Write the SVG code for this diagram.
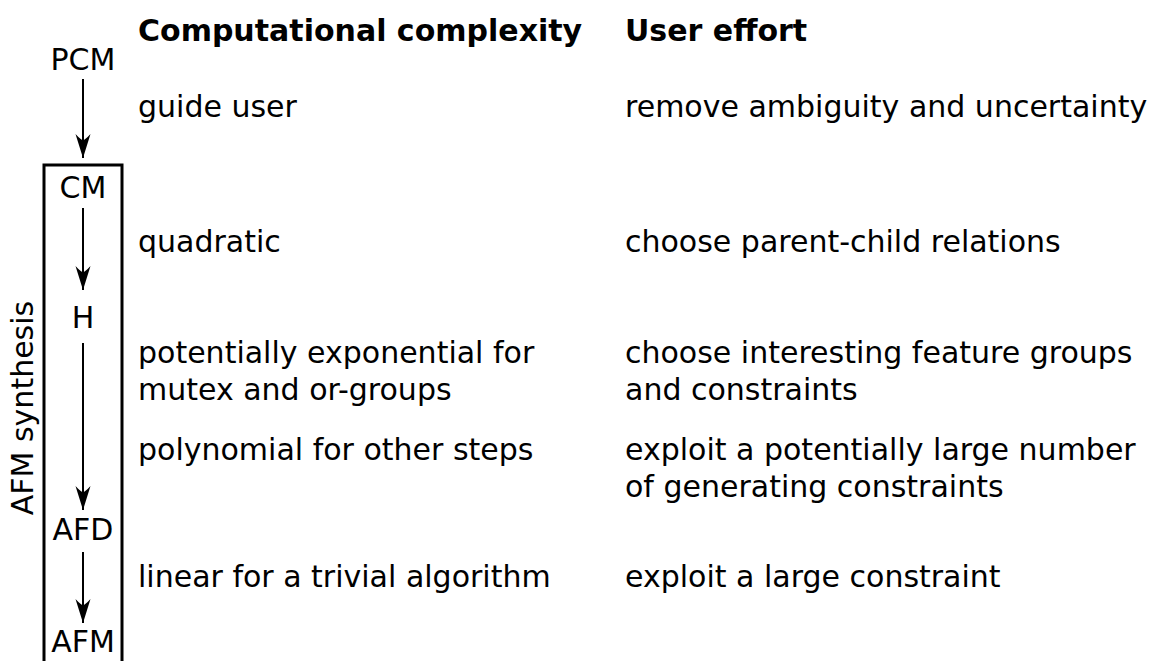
<svg xmlns="http://www.w3.org/2000/svg" width="1150" height="661" viewBox="0 0 1150 661">
<defs>
<marker id="ah" markerUnits="userSpaceOnUse" markerWidth="30" markerHeight="20" viewBox="-26 -10 30 20" refX="0" refY="0" orient="auto">
<path d="M0,0 L-24,-7.5 Q-18,-2 -18,0 Q-18,2 -24,7.5 Z" fill="#000"/>
</marker>
</defs>
<style>
text{font-family:"DejaVu Sans","Liberation Sans",sans-serif;font-size:30px;fill:#000}
.h{font-weight:bold}
.n{text-anchor:middle}
.c{stroke:#000;stroke-width:2;fill:none;marker-end:url(#ah)}
</style>
<rect id="box" x="44" y="165" width="78" height="520" fill="none" stroke="#000" stroke-width="3"/>
<text transform="translate(33,408) rotate(-90)" class="n">AFM synthesis</text>
<g id="connectors">
<path class="c" d="M83,79 V158"/>
<path class="c" d="M83,208 V290"/>
<path class="c" d="M83,343 V510"/>
<path class="c" d="M83,552 V623"/>
</g>
<g id="PCM"><text class="n" x="83" y="70">PCM</text></g>
<g id="CM"><text class="n" x="83" y="198">CM</text></g>
<g id="H"><text class="n" x="83" y="328">H</text></g>
<g id="AFD"><text class="n" x="83" y="540">AFD</text></g>
<g id="AFM"><text class="n" x="83" y="652">AFM</text></g>
<g id="complexity">
<text class="h" x="138" y="41">Computational complexity</text>
<text x="138" y="117">guide user</text>
<text x="138" y="252">quadratic</text>
<text x="138" y="363">potentially exponential for</text>
<text x="138" y="400">mutex and or-groups</text>
<text x="138" y="460">polynomial for other steps</text>
<text x="138" y="587">linear for a trivial algorithm</text>
</g>
<g id="effort">
<text class="h" x="625" y="41">User effort</text>
<text x="625" y="117">remove ambiguity and uncertainty</text>
<text x="625" y="252">choose parent-child relations</text>
<text x="625" y="363">choose interesting feature groups</text>
<text x="625" y="400">and constraints</text>
<text x="625" y="460">exploit a potentially large number</text>
<text x="625" y="497">of generating constraints</text>
<text x="625" y="587">exploit a large constraint</text>
</g>
</svg>
